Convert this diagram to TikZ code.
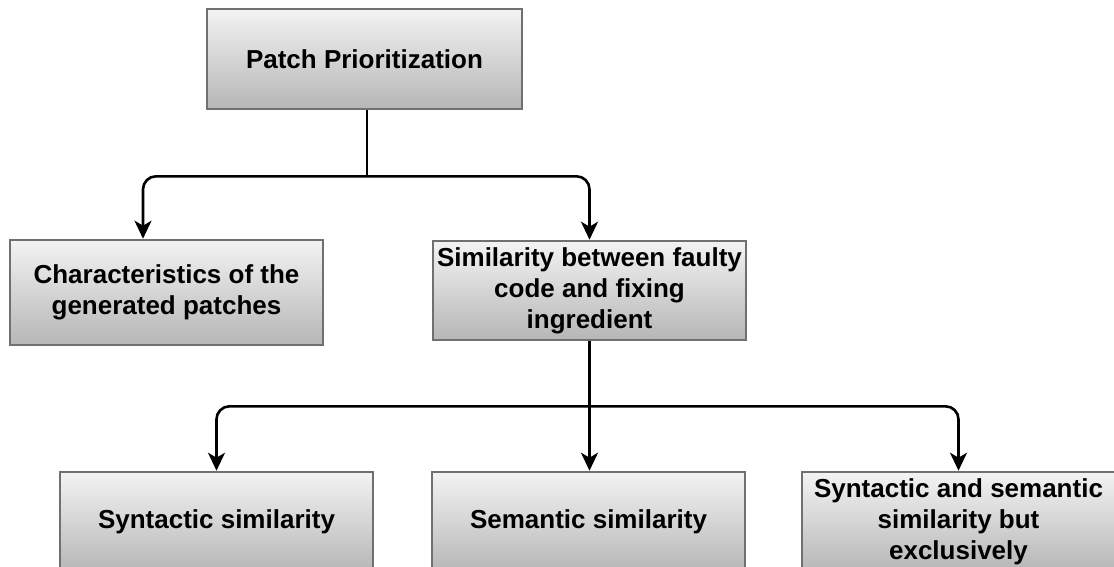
\documentclass[tikz,border=0pt]{standalone}
\usepackage{fontspec}
\setmainfont{Liberation Sans}
\usetikzlibrary{arrows.meta,calc}
\begin{document}
\begin{tikzpicture}[x=1pt,y=-1pt,
  boxnode/.style={draw={rgb,255:red,112;green,112;blue,112}, line width=2.6pt,
    top color={rgb,255:red,243;green,243;blue,243},
    bottom color={rgb,255:red,182;green,182;blue,182},
    minimum width=313pt, minimum height=100pt, inner sep=0pt, align=center,
    font=\fontsize{26}{31}\selectfont\bfseries},
  conn/.style={line width=2.6pt, rounded corners=13pt},
  arr/.style={conn, -{Stealth[length=18pt,width=17pt,inset=5pt]}}]
\useasboundingbox (0,0) rectangle (1114,566);
\node[boxnode, minimum width=315pt] (top) at (364.5,59) {Patch Prioritization};
\node[boxnode, minimum height=105pt] (chr) at (166.5,292.5) {Characteristics of the\\generated patches};
\node[boxnode, minimum height=99pt] (sim) at (589.5,290.5) {Similarity between faulty\\code and fixing\\ingredient};
\node[boxnode] (syn) at (216.5,522) {Syntactic similarity};
\node[boxnode] (sem) at (588.5,522) {Semantic similarity};
\node[boxnode] (both) at (958.5,522) {Syntactic and semantic\\similarity but\\exclusively};
\coordinate (j1) at ($(top.south)+(2.5,66)$);
\coordinate (j2) at ($(sim.south)+(0,65)$);
\draw[conn] ($(top.south)+(2.5,0)$) -- (j1);
\draw[arr] (j1) -| ([xshift=-23.5pt]chr.north);
\draw[arr] (j1) -| (sim.north);
\draw[conn] (sim.south) -- (j2);
\draw[arr] (j2) -| (syn.north);
\draw[arr] (j2) -- (j2 |- sem.north);
\draw[arr] (j2) -| (both.north);
\end{tikzpicture}
\end{document}
